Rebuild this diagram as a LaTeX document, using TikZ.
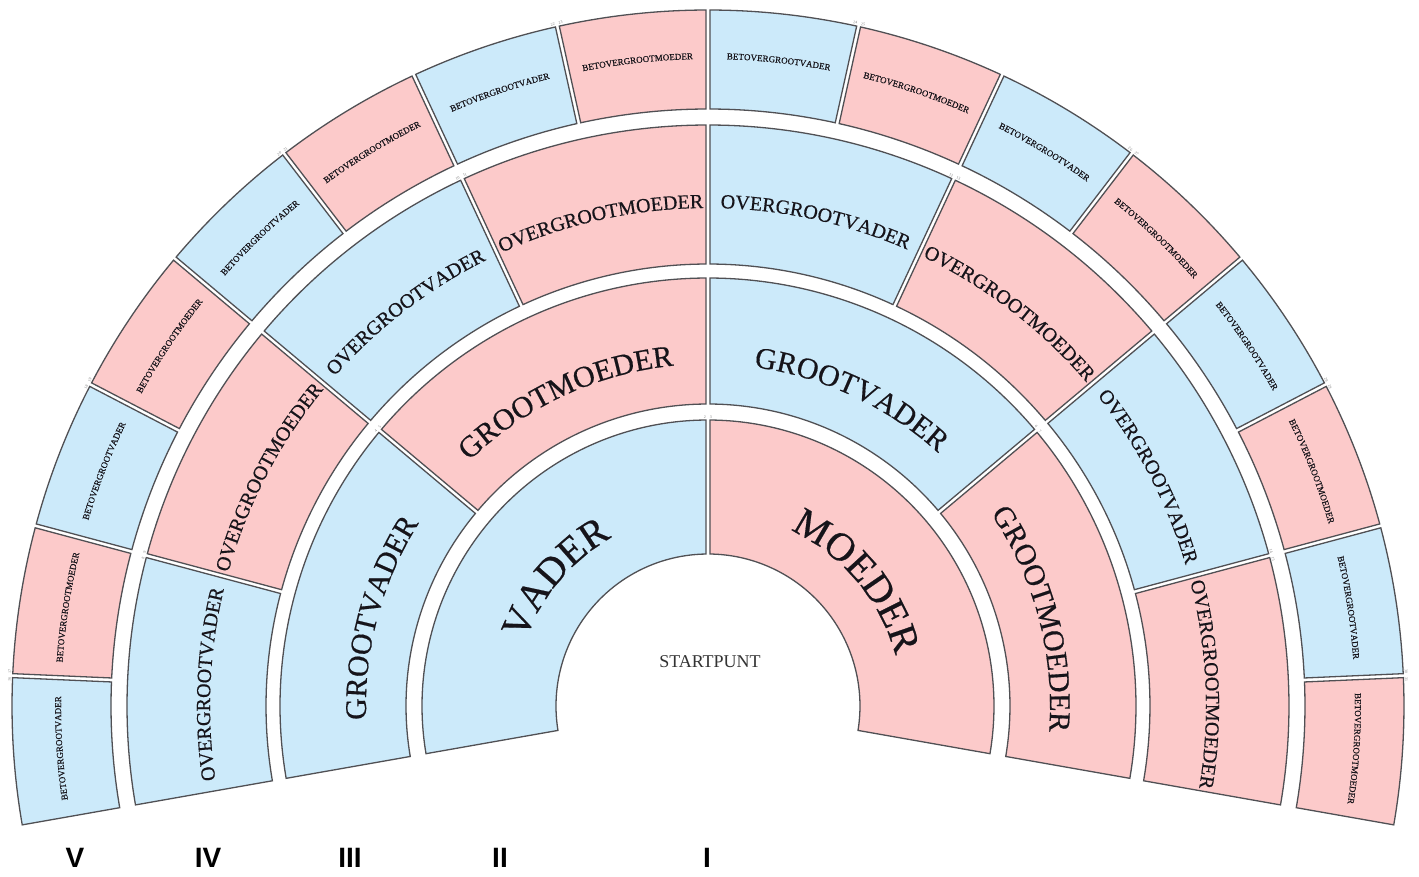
\documentclass[tikz,border=0pt]{standalone}
\usepackage{fontspec}
\setmainfont{Liberation Serif}
\setsansfont{Liberation Sans}
\newfontfamily\fanfont{Liberation Serif}[FakeBold=0.5]
\usepackage{tikz}
\usetikzlibrary{decorations.text}

\definecolor{vaderblue}{RGB}{204,234,250}
\definecolor{moederpink}{RGB}{252,202,202}
\definecolor{randgrijs}{RGB}{80,80,84}
\definecolor{letter}{RGB}{22,20,26}

% one cell of the fan: r in, r out, from angle, to angle, fill style, font size, text radius, text
\newcommand{\fancell}[8]{%
  \pgfmathsetmacro{\gapin}{deg(2/#1)}%
  \pgfmathsetmacro{\gapout}{deg(2/#2)}%
  \pgfmathsetmacro{\midangle}{(#3+#4)/2}%
  \draw[cell,#5] (#3-\gapout:#2) arc[start angle=#3-\gapout, end angle=#4+\gapout, radius=#2]
    -- (#4+\gapin:#1) arc[start angle=#4+\gapin, end angle=#3-\gapin, radius=#1] -- cycle;
  \path[decorate, decoration={text along path, text align=center, text color=letter,
      text={|\fanfont\fontsize{#6}{#6}\selectfont|#8}}]
    (\midangle+40:#7) arc[start angle=\midangle+40, end angle=\midangle-40, radius=#7];
}

\begin{document}
\begin{tikzpicture}[x=1pt, y=1pt,
  cell/.style={draw=randgrijs, line width=1.3},
  man/.style={fill=vaderblue},
  woman/.style={fill=moederpink},
  num/.style={font=\fontsize{4}{4}\selectfont, text=gray, inner sep=0.5, anchor=south},
  gen/.style={font=\sffamily\bfseries\fontsize{28}{28}\selectfont}]
\fill[white] (-708,-170) rectangle (711,706);
\useasboundingbox (-708,-170) rectangle (711,706);
% generatie II
\fancell{152}{286}{190}{90}{man}{40}{194}{VADER}
\fancell{152}{286}{90}{-10}{woman}{40}{194}{MOEDER}
% generatie III
\fancell{302}{428}{190}{140}{man}{30}{342}{GROOTVADER}
\fancell{302}{428}{140}{90}{woman}{30}{342}{GROOTMOEDER}
\fancell{302}{428}{90}{40}{man}{30}{342}{GROOTVADER}
\fancell{302}{428}{40}{-10}{woman}{30}{342}{GROOTMOEDER}
% generatie IV
\fancell{442}{581}{190}{165}{man}{20}{498}{OVERGROOTVADER}
\fancell{442}{581}{165}{140}{woman}{20}{498}{OVERGROOTMOEDER}
\fancell{442}{581}{140}{115}{man}{20}{498}{OVERGROOTVADER}
\fancell{442}{581}{115}{90}{woman}{20}{498}{OVERGROOTMOEDER}
\fancell{442}{581}{90}{65}{man}{20}{498}{OVERGROOTVADER}
\fancell{442}{581}{65}{40}{woman}{20}{498}{OVERGROOTMOEDER}
\fancell{442}{581}{40}{15}{man}{20}{498}{OVERGROOTVADER}
\fancell{442}{581}{15}{-10}{woman}{20}{498}{OVERGROOTMOEDER}
% generatie V
\fancell{597}{696}{190}{177.5}{man}{9}{647}{BETOVERGROOTVADER}
\fancell{597}{696}{177.5}{165}{woman}{9}{647}{BETOVERGROOTMOEDER}
\fancell{597}{696}{165}{152.5}{man}{9}{647}{BETOVERGROOTVADER}
\fancell{597}{696}{152.5}{140}{woman}{9}{647}{BETOVERGROOTMOEDER}
\fancell{597}{696}{140}{127.5}{man}{9}{647}{BETOVERGROOTVADER}
\fancell{597}{696}{127.5}{115}{woman}{9}{647}{BETOVERGROOTMOEDER}
\fancell{597}{696}{115}{102.5}{man}{9}{647}{BETOVERGROOTVADER}
\fancell{597}{696}{102.5}{90}{woman}{9}{647}{BETOVERGROOTMOEDER}
\fancell{597}{696}{90}{77.5}{man}{9}{647}{BETOVERGROOTVADER}
\fancell{597}{696}{77.5}{65}{woman}{9}{647}{BETOVERGROOTMOEDER}
\fancell{597}{696}{65}{52.5}{man}{9}{647}{BETOVERGROOTVADER}
\fancell{597}{696}{52.5}{40}{woman}{9}{647}{BETOVERGROOTMOEDER}
\fancell{597}{696}{40}{27.5}{man}{9}{647}{BETOVERGROOTVADER}
\fancell{597}{696}{27.5}{15}{woman}{9}{647}{BETOVERGROOTMOEDER}
\fancell{597}{696}{15}{2.5}{man}{9}{647}{BETOVERGROOTVADER}
\fancell{597}{696}{2.5}{-10}{woman}{9}{647}{BETOVERGROOTMOEDER}
% startpunt
\node[font=\fontsize{18}{18}\selectfont, text=black!80] (S) at (2,44) {STARTPUNT};
% nummers
\node[num, rotate=0] (n2) at (90:287) {2\quad 3};
\node[num, rotate=50] (n4) at (140:429) {4\quad 5};
\node[num, rotate=-50] (n6) at (40:429) {6\quad 7};
\node[num, rotate=75] (n8) at (165:582) {8\quad 9};
\node[num, rotate=25] (n10) at (115:582) {10\quad 11};
\node[num, rotate=-25] (n12) at (65:582) {12\quad 13};
\node[num, rotate=-75] (n14) at (15:582) {14\quad 15};
\node[num, rotate=87.5] (n16) at (177.5:697) {16\quad 17};
\node[num, rotate=62.5] (n18) at (152.5:697) {18\quad 19};
\node[num, rotate=37.5] (n20) at (127.5:697) {20\quad 21};
\node[num, rotate=12.5] (n22) at (102.5:697) {22\quad 23};
\node[num, rotate=-12.5] (n24) at (77.5:697) {24\quad 25};
\node[num, rotate=-37.5] (n26) at (52.5:697) {26\quad 27};
\node[num, rotate=-62.5] (n28) at (27.5:697) {28\quad 29};
\node[num, rotate=-87.5] (n30) at (2.5:697) {30\quad 31};
% generaties
\node[gen] (V) at (-633,-152) {V};
\node[gen] (IV) at (-500,-152) {IV};
\node[gen] (III) at (-358,-152) {III};
\node[gen] (II) at (-208,-152) {II};
\node[gen] (I) at (-1,-152) {I};
\end{tikzpicture}
\end{document}
